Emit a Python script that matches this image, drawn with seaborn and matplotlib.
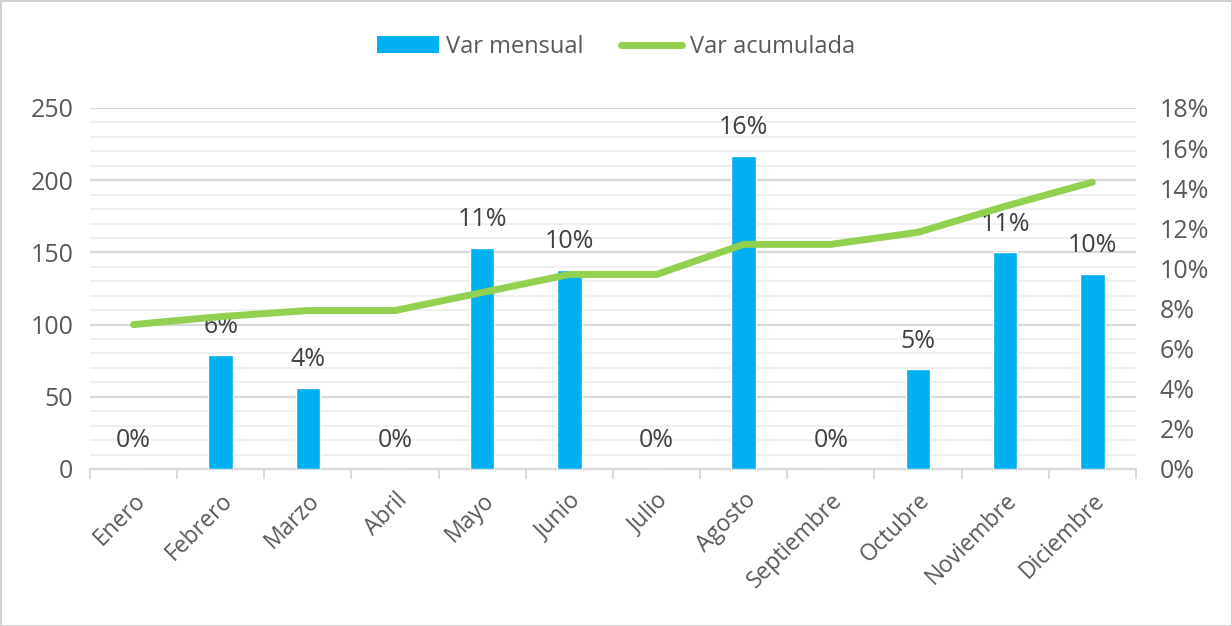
"""
Variación mensual y acumulada por mes.
Barras (eje izquierdo) y línea acumulada (eje derecho, %).
"""

import numpy as np
import seaborn as sns
import matplotlib.pyplot as plt
from matplotlib.patches import Patch
from matplotlib.lines import Line2D
from matplotlib.ticker import MultipleLocator, FixedLocator, PercentFormatter

meses = ['Enero', 'Febrero', 'Marzo', 'Abril', 'Mayo', 'Junio', 'Julio',
         'Agosto', 'Septiembre', 'Octubre', 'Noviembre', 'Diciembre']
var_mensual = [0, 79, 56, 0, 153, 138, 0, 217, 0, 69, 150, 135]
etiquetas = ['0%', '6%', '4%', '0%', '11%', '10%', '0%', '16%', '0%', '5%', '11%', '10%']
var_acumulada = [7.2, 7.6, 7.9, 7.9, 8.8, 9.7, 9.7, 11.2, 11.2, 11.8, 13.1, 14.3]

AZUL = '#00B0F0'
VERDE = '#92D050'
GRIS = '#595959'

sns.set_theme(style='white')
plt.rcParams['font.family'] = ['Open Sans', 'DejaVu Sans']

fig = plt.figure(figsize=(12.32, 6.26), dpi=100)
fig.patch.set_edgecolor('#d0d0d0')
fig.patch.set_linewidth(2)
ax = fig.add_axes([0.073, 0.2508, 0.849, 0.5767])

x = np.arange(len(meses))
sns.barplot(x=x, y=var_mensual, color=AZUL, width=0.28, saturation=1, ax=ax, zorder=3)

ax.set_xlim(-0.5, len(meses) - 0.5)
ax.set_ylim(0, 250)
ax.yaxis.set_major_locator(MultipleLocator(50))
ax.yaxis.set_minor_locator(MultipleLocator(10))
ax.grid(which='major', axis='y', color='#d9d9d9', linewidth=1.6, zorder=0)
ax.grid(which='minor', axis='y', color='#ececec', linewidth=1.2, zorder=0)
ax.set_axisbelow(True)

for s in ['top', 'left', 'right']:
    ax.spines[s].set_visible(False)
ax.spines['bottom'].set_color('#d9d9d9')
ax.spines['bottom'].set_linewidth(1.6)

ax.set_xticks(x)
ax.set_xticklabels(meses, rotation=45, ha='right', rotation_mode='anchor',
                   fontsize=16.5, color=GRIS)
ax.xaxis.set_minor_locator(FixedLocator(np.arange(-0.5, len(meses), 1)))
ax.tick_params(axis='x', which='major', length=0, pad=14)
ax.tick_params(axis='x', which='minor', bottom=True, length=7, width=1.4, color='#d9d9d9')
ax.tick_params(axis='y', which='both', length=0, labelsize=18, labelcolor=GRIS, pad=12)
ax.set_xlabel('')
ax.set_ylabel('')

for i, (v, t) in enumerate(zip(var_mensual, etiquetas)):
    ax.text(i, v + 19.5, t, ha='center', va='center', fontsize=18, color='#404040', zorder=2)

ax2 = ax.twinx()
sns.lineplot(x=x, y=var_acumulada, color=VERDE, linewidth=5, ax=ax2,
             solid_capstyle='round', solid_joinstyle='round', zorder=4)
ax2.set_ylim(0, 18)
ax2.yaxis.set_major_locator(MultipleLocator(2))
ax2.yaxis.set_major_formatter(PercentFormatter(decimals=0))
ax2.tick_params(axis='y', length=0, labelsize=18, labelcolor=GRIS, pad=17)
ax2.grid(False)
for s in ax2.spines.values():
    s.set_visible(False)
ax2.set_ylabel('')

handles = [Patch(facecolor=AZUL, edgecolor='none'),
           Line2D([0], [0], color=VERDE, linewidth=5, solid_capstyle='round')]
fig.legend(handles, ['Var mensual', 'Var acumulada'], loc='center',
           bbox_to_anchor=(0.5, 0.925), ncol=2, frameon=False, fontsize=17,
           labelcolor=GRIS, handlelength=2.6, handletextpad=0.3, columnspacing=1.6)

plt.savefig('out.png', dpi=100)
plt.close()
